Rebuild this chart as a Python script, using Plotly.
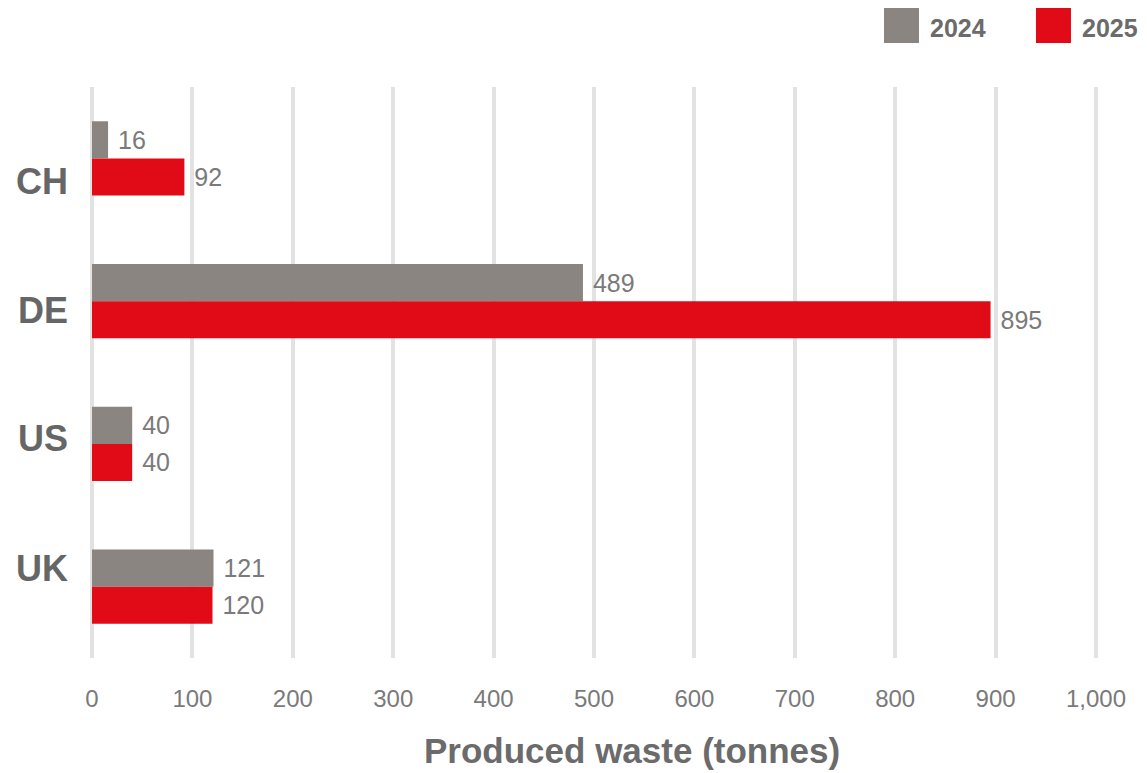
import plotly.graph_objects as go

categories = ["CH", "DE", "US", "UK"]
values_2024 = [16, 489, 40, 121]
values_2025 = [92, 895, 40, 120]
series_names = ["2024", "2025"]
tick_values = [0, 100, 200, 300, 400, 500, 600, 700, 800, 900, 1000]
x_title = "Produced waste (tonnes)"

GRAY = "#8a8581"
RED = "#e00b16"
FONT = "Liberation Sans, Arial, sans-serif"

# plot area in page pixels (page has an 8px body margin)
PAD = 5  # extra axis units either side so edge gridlines are drawn
PXU = 1004 / 1000
PX0, PX1, PY0, PY1 = 92 - PAD * PXU, 1096 + PAD * PXU, 87, 658
W, H = 1131, 765

fig = go.Figure()
for name, vals, col in [(series_names[0], values_2024, GRAY), (series_names[1], values_2025, RED)]:
    fig.add_trace(go.Bar(
        name=name, y=categories, x=vals, orientation="h",
        marker=dict(color=col, line=dict(width=0)),
        texttemplate="\u00a0%{x}", textposition="outside",
        textfont=dict(family=FONT, size=25, color="#7a7a7a"),
        cliponaxis=False, showlegend=False,
    ))

fig.update_layout(
    width=W, height=H,
    margin=dict(l=PX0 - 8, r=(8 + W) - PX1, t=PY0 - 8, b=(8 + H) - PY1, autoexpand=False),
    paper_bgcolor="white", plot_bgcolor="white",
    barmode="group", bargap=0.48, bargroupgap=0,
    font=dict(family=FONT),
    xaxis=dict(
        range=[-PAD, 1000 + PAD], tickvals=tick_values, tickformat=",",
        showgrid=True, gridcolor="#e2e2e2", gridwidth=4,
        zeroline=True, zerolinecolor="#e2e2e2", zerolinewidth=4,
        showline=False, ticks="",
        tickfont=dict(family=FONT, size=24, color="#7a7a7a"),
        ticklabelstandoff=24,
    ),
    yaxis=dict(
        autorange="reversed", showgrid=False, zeroline=False, showline=False, ticks="",
        showticklabels=False,
    ),
)

def px_to_paper_x(px):
    return (px - PX0) / (PX1 - PX0)

def px_to_paper_y(py):
    return (PY1 - py) / (PY1 - PY0)

# x-axis title (placed as in the reference, right of the plot centre)
fig.add_annotation(xref="paper", yref="paper", x=px_to_paper_x(632), y=px_to_paper_y(750),
                   text="<b>" + x_title + "</b>", showarrow=False,
                   xanchor="center", yanchor="middle",
                   font=dict(family=FONT, size=35, color="#6b6b6b"))

# category labels (placed as in the reference, slightly offset from bar centres)
label_y_page = [181, 310, 438, 568]
for cat, yp in zip(categories, label_y_page):
    fig.add_annotation(xref="paper", yref="paper", x=px_to_paper_x(70), y=px_to_paper_y(yp),
                       text="<b>" + cat + "</b>", showarrow=False,
                       xanchor="right", yanchor="middle",
                       font=dict(family=FONT, size=36, color="#666666"))

# legend drawn as boxes + labels at top right
for i, (name, col) in enumerate(zip(series_names, [GRAY, RED])):
    x0 = 884 + i * 152
    fig.add_shape(type="rect", xref="paper", yref="paper",
                  x0=px_to_paper_x(x0), x1=px_to_paper_x(x0 + 35),
                  y0=px_to_paper_y(43), y1=px_to_paper_y(8),
                  fillcolor=col, line=dict(width=0))
    fig.add_annotation(xref="paper", yref="paper",
                       x=px_to_paper_x(x0 + 44), y=px_to_paper_y(28),
                       text="<b>" + name + "</b>", showarrow=False,
                       xanchor="left", yanchor="middle",
                       font=dict(family=FONT, size=25, color="#6b6b6b"))

fig.write_html("out.html")
